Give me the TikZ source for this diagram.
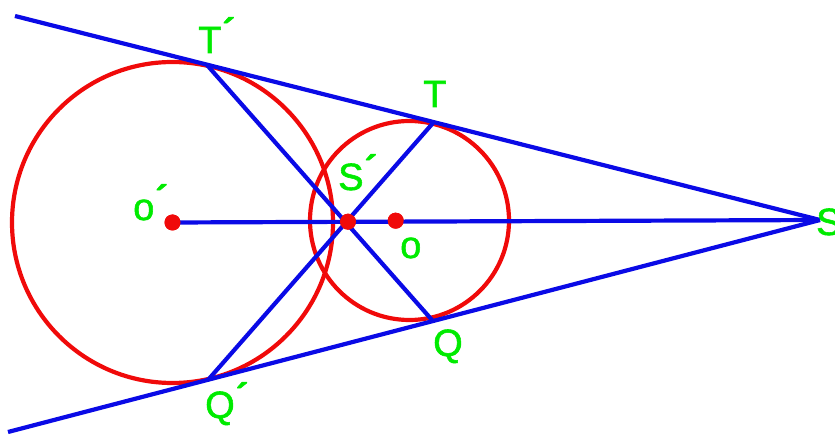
\documentclass[tikz,border=0pt]{standalone}
\usepackage{fontspec}
\setmainfont{Liberation Sans}[FakeBold=1.5]
\usetikzlibrary{positioning}
\definecolor{linblue}{RGB}{10,10,230}
\definecolor{cirred}{RGB}{240,10,10}
\definecolor{labgreen}{RGB}{0,235,0}
\newcommand{\acc}{\kern1pt\raisebox{8pt}{\bfseries ´}}

\begin{document}
\begin{tikzpicture}[x=1pt, y=-1pt,
  tline/.style={linblue, line width=4.2pt},
  circ/.style={cirred, line width=4.2pt},
  dot/.style={circle, fill=cirred, inner sep=0pt, minimum size=16pt},
  lbl/.style={text=labgreen, font=\fontsize{38}{40}\selectfont, inner sep=0pt, anchor=base west}
]
\useasboundingbox (0,0) rectangle (835,435);
% points
\coordinate (S) at (820,220);
\coordinate (Ob) at (172.5,222.5);
\coordinate (Os) at (409.5,220.5);
\coordinate (T1) at (207,65);
\coordinate (T) at (433,123);
\coordinate (Q) at (432,320);
\coordinate (Q1) at (208,380);
\coordinate (up) at (15,16);
\coordinate (lo) at (8,432);
% circles
\draw[circ] (Ob) circle[radius=160.5pt];
\draw[circ] (Os) circle[radius=99.5pt];
% lines
\node[dot] (o1) at (172.5,222.5) {};
\node[dot] (s1) at (348,221.7) {};
\node[dot] (o) at (395.7,220.7) {};
\draw[tline] (up) -- (S);
\draw[tline] (lo) -- (S);
\draw[tline] (T1) -- (Q);
\draw[tline] (T) -- (Q1);
\draw[tline] (o1.center) -- (S);
\node[dot] at (o1) {};
\node[dot] at (s1) {};
\node[dot] at (o) {};
% labels
\node[lbl] (lT1) at (198,53) {T\acc};
\node[lbl] (lT) at (423,107) {T};
\node[lbl] (lS1) at (338,190) {S\acc};
\node[lbl] (lo1) at (133,220) {o\acc};
\node[lbl] (lo) at (400,258) {o};
\node[lbl] (lQ) at (433,356) {Q};
\node[lbl] (lQ1) at (205,418) {Q\acc};
\node[lbl] (lS) at (816,235) {S};
\end{tikzpicture}
\end{document}
